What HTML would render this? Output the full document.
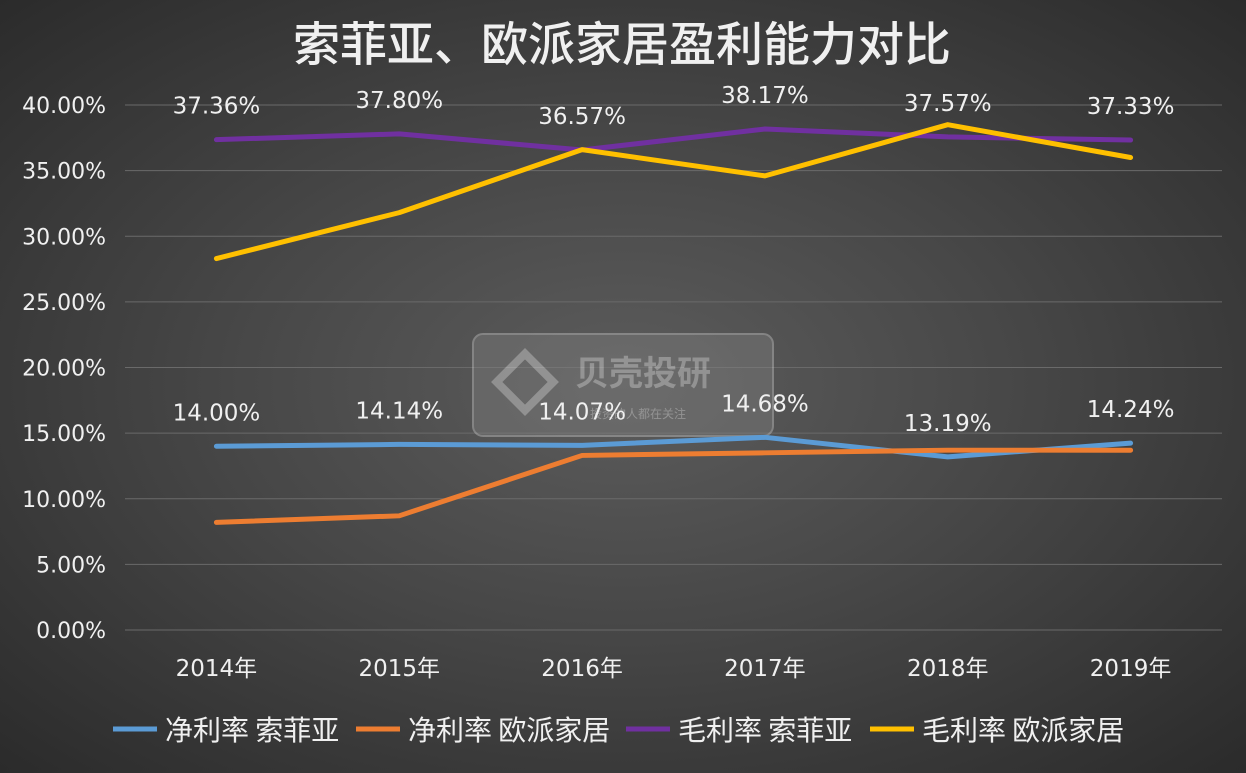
<!DOCTYPE html>
<html><head><meta charset="utf-8"><style>
html,body{margin:0;padding:0}
body{width:1246px;height:769px;overflow:hidden;background:radial-gradient(ellipse at 50% 50%,#5c5c5c 0%,#474747 45%,#2b2b2b 100%);font-family:"DejaVu Sans","Noto Sans CJK SC",sans-serif}
</style></head><body>
<svg id="chart" width="1246" height="769" xmlns="http://www.w3.org/2000/svg" font-family="DejaVu Sans, Noto Sans CJK SC, sans-serif">
<text x="622" y="61" text-anchor="middle" font-size="47" font-weight="500" fill="#f0f0f0" font-family="Noto Sans CJK SC, sans-serif">索菲亚、欧派家居盈利能力对比</text>
<g id="grid"></g><g id="yticks"></g><g id="xticks"></g>
<g opacity="0.35">
<rect x="473" y="334" width="300" height="102" rx="10" fill="#888" stroke="#ddd" stroke-width="2"/>
<rect x="505" y="362" width="40" height="40" transform="rotate(45 525 382)" fill="none" stroke="#fff" stroke-width="8"/>
<text x="575" y="385" font-size="34" font-weight="bold" fill="#fff" font-family="Noto Sans CJK SC, sans-serif">贝壳投研</text>
<text x="590" y="418" font-size="12" fill="#fff" font-family="Noto Sans CJK SC, sans-serif">投资的人都在关注</text>
</g>
<g id="series"></g><g id="labels"></g>
<g id="legend"></g>
</svg>
<script>
const categories=["2014年","2015年","2016年","2017年","2018年","2019年"];
const yTicks=[0,5,10,15,20,25,30,35,40];
const netSofia=[14.00,14.14,14.07,14.68,13.19,14.24];
const netOppein=[8.2,8.7,13.3,13.5,13.7,13.7];
const grossSofia=[37.36,37.80,36.57,38.17,37.57,37.33];
const grossOppein=[28.3,31.8,36.6,34.6,38.5,36.0];
const seriesNames=["净利率 索菲亚","净利率 欧派家居","毛利率 索菲亚","毛利率 欧派家居"];
const ns="http://www.w3.org/2000/svg";
const L=125,R=1222,T=105,B=630;
const x=i=>L+(R-L)/categories.length*(i+0.5);
const y=v=>B-(B-T)*v/40;
function mk(tag,attrs,parent,txt){const e=document.createElementNS(ns,tag);for(const k in attrs)e.setAttribute(k,attrs[k]);if(txt!==undefined)e.textContent=txt;document.getElementById(parent).appendChild(e);return e;}
yTicks.forEach(t=>{
 const g=mk("line",{x1:L,x2:R,y1:y(t),y2:y(t),stroke:"#6a6a6a","stroke-width":1},"grid");
 
 
 const tx=mk("text",{x:106,y:y(t)+8,"text-anchor":"end","font-size":22,fill:"#f0f0f0"},"yticks",t.toFixed(2)+"%");
 
 
});
categories.forEach((c,i)=>{
 const tx=mk("text",{x:x(i),y:676,"text-anchor":"middle","font-size":23,fill:"#f0f0f0"},"xticks",c);
 
 
});
const all=[[netSofia,"#5b9bd5","net-margin-sofia"],[netOppein,"#ed7d31","net-margin-oppein"],[grossSofia,"#7030a0","gross-margin-sofia"],[grossOppein,"#ffc000","gross-margin-oppein"]];
all.forEach(([d,col,name])=>{
 const p=mk("polyline",{points:d.map((v,i)=>x(i)+","+y(v)).join(" "),fill:"none",stroke:col,"stroke-width":5,"stroke-linejoin":"round","stroke-linecap":"round"},"series");
 
 
});
[[netSofia,"net-sofia"],[grossSofia,"gross-sofia"]].forEach(([d,n])=>{
 d.forEach((v,i)=>{
  const t=mk("text",{x:x(i),y:y(v)-26,"text-anchor":"middle","font-size":23,fill:"#f0f0f0"},"labels",v.toFixed(2)+"%");
  
  
 });
});
const lx=[113,356,626,870];
seriesNames.forEach((s,i)=>{
 const l=mk("line",{x1:lx[i],x2:lx[i]+44,y1:729,y2:729,stroke:all[i][1],"stroke-width":5},"legend");
 
 
 const t=mk("text",{x:lx[i]+52,y:740,"font-size":28,fill:"#f0f0f0","font-family":"Noto Sans CJK SC, sans-serif"},"legend",s);
 
 
});
</script>
</body></html>
